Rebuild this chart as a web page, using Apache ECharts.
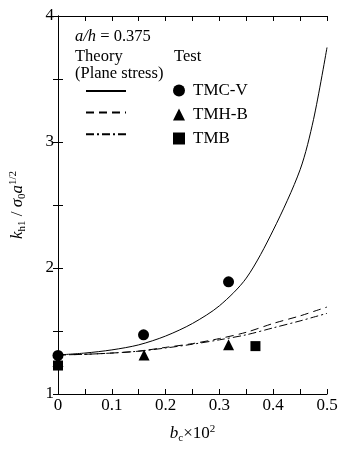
<!DOCTYPE html>
<html>
<head>
<meta charset="utf-8">
<script src="https://cdn.jsdelivr.net/npm/echarts@6/dist/echarts.min.js"></script>
<style>
  html, body { margin: 0; padding: 0; background: #fff; }
  #chart { width: 341px; height: 449px; }
</style>
</head>
<body>
<div id="chart"></div>
<script>
// Theory curves (plane stress), sampled along b_c x 10^2
const curveX = [0, 0.05, 0.1, 0.15, 0.2, 0.25, 0.3, 0.35, 0.4, 0.45, 0.475, 0.5]
const solidY = [1.31, 1.325, 1.35, 1.39, 1.46, 1.56, 1.70, 1.92, 2.30, 2.78, 3.18, 3.75]
const dashedY = [1.31, 1.315, 1.325, 1.34, 1.37, 1.40, 1.44, 1.49, 1.56, 1.62, 1.655, 1.69]
const dashDotY = [1.31, 1.315, 1.325, 1.34, 1.365, 1.395, 1.43, 1.47, 1.525, 1.58, 1.61, 1.64]

// Test data
const tmcv = [[0, 1.306], [0.159, 1.47], [0.317, 1.89]]
const tmhb = [[0, 1.257], [0.16, 1.31], [0.317, 1.39]]
const tmb = [[0, 1.226], [0.367, 1.38]]

const FONT = 'Liberation Serif'
const INK = '#000'
const FS = 17

const pairs = (ys) => curveX.map((x, i) => [x, ys[i]])

const chart = echarts.init(document.getElementById('chart'))

const richName = {
  i: { fontFamily: FONT, fontStyle: 'italic', fontSize: FS, color: INK },
  n: { fontFamily: FONT, fontSize: FS, color: INK },
  sub: { fontFamily: FONT, fontSize: 11, color: INK, verticalAlign: 'bottom', padding: [9, 0, 0, 0] },
  sup: { fontFamily: FONT, fontSize: 11, color: INK, verticalAlign: 'top', padding: [0, 0, 9, 0] },
}

const baseX = {
  type: 'value',
  min: 0,
  max: 0.5,
  interval: 0.1,
  axisLine: { show: true, lineStyle: { color: INK, width: 1 } },
  axisTick: { show: true, inside: true, length: 5, lineStyle: { color: INK } },
  minorTick: { show: true, splitNumber: 2, length: 5, lineStyle: { color: INK } },
  splitLine: { show: false },
}
const baseY = {
  type: 'value',
  min: 1,
  max: 4,
  interval: 1,
  axisLine: { show: true, lineStyle: { color: INK, width: 1 } },
  axisTick: { show: true, inside: true, length: 5, lineStyle: { color: INK } },
  minorTick: { show: true, splitNumber: 2, length: 5, lineStyle: { color: INK } },
  splitLine: { show: false },
}

const line = (name, data, type) => ({
  name,
  type: 'line',
  data,
  smooth: 0.3,
  symbol: 'none',
  lineStyle: { color: INK, width: 1, type },
  itemStyle: { color: INK },
  z: 2,
})
const scatter = (name, data, symbol, size) => ({
  name,
  type: 'scatter',
  data,
  symbol,
  symbolSize: size,
  itemStyle: { color: INK, opacity: 1 },
  clip: false,
  z: 3,
})

chart.setOption({
  animation: false,
  backgroundColor: '#fff',
  textStyle: { fontFamily: FONT, color: INK },
  grid: { left: 57, right: 14, top: 16, bottom: 48 },
  xAxis: [
    {
      ...baseX,
      position: 'bottom',
      axisLabel: { color: INK, fontFamily: FONT, fontSize: FS, margin: 3 },
      name: '{i|b}{sub|c}{n|×10}{sup|2}',
      nameLocation: 'middle',
      nameGap: 30,
      nameTextStyle: { rich: richName },
    },
    { ...baseX, position: 'top', axisLabel: { show: false } },
  ],
  yAxis: [
    {
      ...baseY,
      position: 'left',
      axisLabel: { color: INK, fontFamily: FONT, fontSize: FS, margin: 4 },
      name: '{i|k}{sub|h1}{n| / }{i|σ}{sub|0}{i|a}{sup|1/2}',
      nameLocation: 'middle',
      nameRotate: 90,
      nameGap: 30,
      nameTextStyle: { rich: richName },
    },
    { ...baseY, position: 'right', axisLabel: { show: false } },
  ],
  legend: [
    {
      data: ['Solid', 'Dashed', 'DashDot'],
      orient: 'vertical',
      left: 85,
      top: 84,
      padding: 0,
      itemWidth: 40,
      itemHeight: 14,
      itemGap: 9,
      formatter: () => '',
      selectedMode: false,
      itemStyle: { opacity: 0 },
      textStyle: { fontSize: 1 },
    },
    {
      data: ['TMC-V', 'TMH-B', 'TMB'],
      orient: 'vertical',
      left: 173,
      top: 82,
      padding: 0,
      itemWidth: 12,
      itemHeight: 12,
      itemGap: 7,
      selectedMode: false,
      itemStyle: { opacity: 1 },
      textStyle: { fontFamily: FONT, fontSize: FS, color: INK, padding: [0, 0, 0, 3] },
    },
  ],
  graphic: [
    {
      type: 'text',
      left: 75,
      top: 28,
      style: {
        text: '{i|a/h}{n| = 0.375}',
        rich: {
          i: { fontFamily: FONT, fontStyle: 'italic', fontSize: 16.5, fill: INK },
          n: { fontFamily: FONT, fontSize: 16.5, fill: INK },
        },
      },
    },
    {
      type: 'text',
      left: 75,
      top: 48,
      style: { text: 'Theory\n(Plane stress)', font: '16.5px "Liberation Serif"', fill: INK, lineHeight: 17 },
    },
    {
      type: 'text',
      left: 174,
      top: 48,
      style: { text: 'Test', font: '16.5px "Liberation Serif"', fill: INK },
    },
  ],
  series: [
    line('Solid', pairs(solidY), 'solid'),
    line('Dashed', pairs(dashedY), [8, 5]),
    line('DashDot', pairs(dashDotY), [8, 3, 2, 3]),
    scatter('TMC-V', tmcv, 'circle', 11),
    scatter('TMH-B', tmhb, 'triangle', 11),
    scatter('TMB', tmb, 'rect', 10),
  ],
})
</script>
</body>
</html>
